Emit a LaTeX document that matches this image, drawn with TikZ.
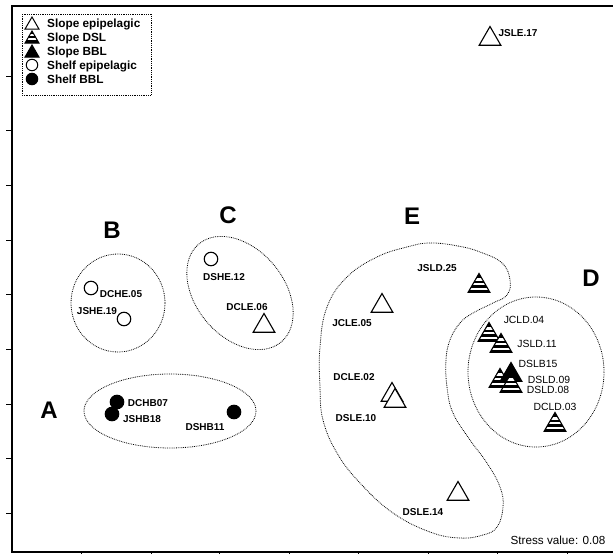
\documentclass[tikz,border=0pt]{standalone}
\usepackage{fontspec}
\setmainfont{Liberation Sans}
\usetikzlibrary{shapes.geometric}
\tikzset{
 mk/.style={draw=black, line width=1.1pt, inner sep=0pt},
 otri/.style={mk, regular polygon, regular polygon sides=3, minimum size=25pt, fill=white},
 btri/.style={otri, fill=black},
 stri/.style={otri, fill=black, path picture={\foreach \a/\b in {4.8/7.2,9.4/11.8,14/16.4}{\fill[white] ([yshift=-\a pt]path picture bounding box.north west) rectangle ([yshift=-\b pt]path picture bounding box.north east);}}},
 ocirc/.style={mk, circle, minimum size=13.5pt, fill=white},
 bcirc/.style={ocirc, fill=black},
 lotri/.style={mk, line width=1pt, regular polygon, regular polygon sides=3, minimum size=16pt, fill=white},
 lbtri/.style={lotri, fill=black},
 lstri/.style={lotri, fill=black, path picture={\foreach \a/\b in {2.6/5.2,6.6/9.2}{\fill[white] ([yshift=-\a pt]path picture bounding box.north west) rectangle ([yshift=-\b pt]path picture bounding box.north east);}}},
 locirc/.style={mk, line width=1pt, circle, minimum size=11.5pt, fill=white},
 lbcirc/.style={locirc, fill=black},
 lgtxt/.style={font=\fontsize{11.8}{12}\selectfont\bfseries, inner sep=0pt, anchor=base west},
 lbl/.style={font=\fontsize{10}{10}\selectfont\bfseries, inner sep=0pt},
 lblr/.style={font=\fontsize{10.4}{10}\selectfont, inner sep=0pt},
 grp/.style={font=\fontsize{24}{24}\selectfont\bfseries, inner sep=0pt},
 hull/.style={densely dotted, line width=0.8pt},
}
\begin{document}
\begin{tikzpicture}[x=1pt,y=-1pt]
\useasboundingbox (0,0) rectangle (613,554);
% axes
\draw[line width=1.3pt] (613,6) -- (12,6) -- (12,552) -- (613,552);
\foreach \k in {0,...,8} \draw[line width=1pt] (6,{76+54.7*\k}) -- (12,{76+54.7*\k});
\foreach \x in {81,151,219,289,358,428,497,567} \draw[line width=1pt] (\x,552) -- (\x,555);
% hulls
\draw[hull] (170,411) ellipse [x radius=86, y radius=37];
\draw[hull] (118,303) ellipse [x radius=47, y radius=49];
\draw[hull, rotate around={-50:(240,293)}] (240,293) ellipse [x radius=64, y radius=44];
\draw[hull] (536,372) ellipse [x radius=68, y radius=75];
\draw[hull] plot[smooth cycle, tension=0.7] coordinates {(430,243) (458,246) (480,252) (502,263) (510,280) (507,295) (493,303) (473,313) (460,323) (450,340) (446,360) (447,387) (453,413) (470,440) (487,463) (500,487) (503,507) (497,527) (483,535) (460,538) (430,532) (393,513) (360,483) (337,453) (323,420) (320,387) (320,347) (327,307) (347,277) (377,257) (407,247)};
% group letters
\node[grp] (gA) at (49,410) {A};
\node[grp] (gB) at (112,230) {B};
\node[grp] (gC) at (228,215) {C};
\node[grp] (gE) at (412,216) {E};
\node[grp] (gD) at (591,278) {D};
% markers
\node[otri] (mJSLE17) at (490,39) {};
\node[otri] (mJCLE05) at (382,306) {};
\node[stri] (mJSLD25) at (479,286) {};
\node[otri] (mDCLE02) at (392,395) {};
\node[otri] (mDSLE10) at (395,401) {};
\node[stri] (mJCLD04) at (489,335) {};
\node[stri] (mJSLD11) at (501,346) {};
\node[stri] (mDSLD09) at (500,381) {};
\node[btri] (mDSLB15) at (511,375) {};
\node[stri] (mDSLD08) at (511,386) {};
\node[stri] (mDCLD03) at (555,425) {};
\node[otri] (mDSLE14) at (458,494) {};
\node[otri] (mDCLE06) at (264,326) {};
\node[ocirc] (mDSHE12) at (211,259) {};
\node[ocirc] (mDCHE05) at (91,288) {};
\node[ocirc] (mJSHE19) at (124,319) {};
\node[bcirc] (mDCHB07) at (117,402) {};
\node[bcirc] (mJSHB18) at (112,414) {};
\node[bcirc] (mDSHB11) at (234,412) {};
% labels
\node[lbl] (tJSLE17) at (518,33) {JSLE.17};
\node[lbl] (tJCLE05) at (352,323) {JCLE.05};
\node[lbl] (tJSLD25) at (437,268) {JSLD.25};
\node[lbl] (tDCLE02) at (354,377) {DCLE.02};
\node[lbl] (tDSLE10) at (356,418) {DSLE.10};
\node[lblr] (tJCLD04) at (524,320) {JCLD.04};
\node[lblr] (tJSLD11) at (537,344) {JSLD.11};
\node[lblr] (tDSLB15) at (538,364) {DSLB15};
\node[lblr] (tDSLD09) at (549,380) {DSLD.09};
\node[lblr] (tDSLD08) at (548,390) {DSLD.08};
\node[lblr] (tDCLD03) at (555,407) {DCLD.03};
\node[lbl] (tDSLE14) at (423,512) {DSLE.14};
\node[lbl] (tDCLE06) at (247,307) {DCLE.06};
\node[lbl] (tDSHE12) at (224,277) {DSHE.12};
\node[lbl] (tDCHE05) at (121,294) {DCHE.05};
\node[lbl] (tJSHE19) at (97,311) {JSHE.19};
\node[lbl] (tDCHB07) at (148,403) {DCHB07};
\node[lbl] (tJSHB18) at (142,419) {JSHB18};
\node[lbl] (tDSHB11) at (205,427) {DSHB11};
\node[font=\fontsize{11.7}{12}\selectfont, inner sep=0pt] (stress) at (558,540) {Stress value: 0.08};
% legend
\draw[densely dotted, line width=0.8pt, fill=white] (22,14) rectangle (151,95);
\node[lotri] (l1) at (32,25) {};
\node[lstri] (l2) at (32,39) {};
\node[lbtri] (l3) at (32,53) {};
\node[locirc] (l4) at (32,65) {};
\node[lbcirc] (l5) at (32,79) {};
\node[lgtxt] (lt1) at (47,27.3) {Slope epipelagic};
\node[lgtxt] (lt2) at (47,41.3) {Slope DSL};
\node[lgtxt] (lt3) at (47,55.3) {Slope BBL};
\node[lgtxt] (lt4) at (47,69.3) {Shelf epipelagic};
\node[lgtxt] (lt5) at (47,83.3) {Shelf BBL};
\end{tikzpicture}
\end{document}
